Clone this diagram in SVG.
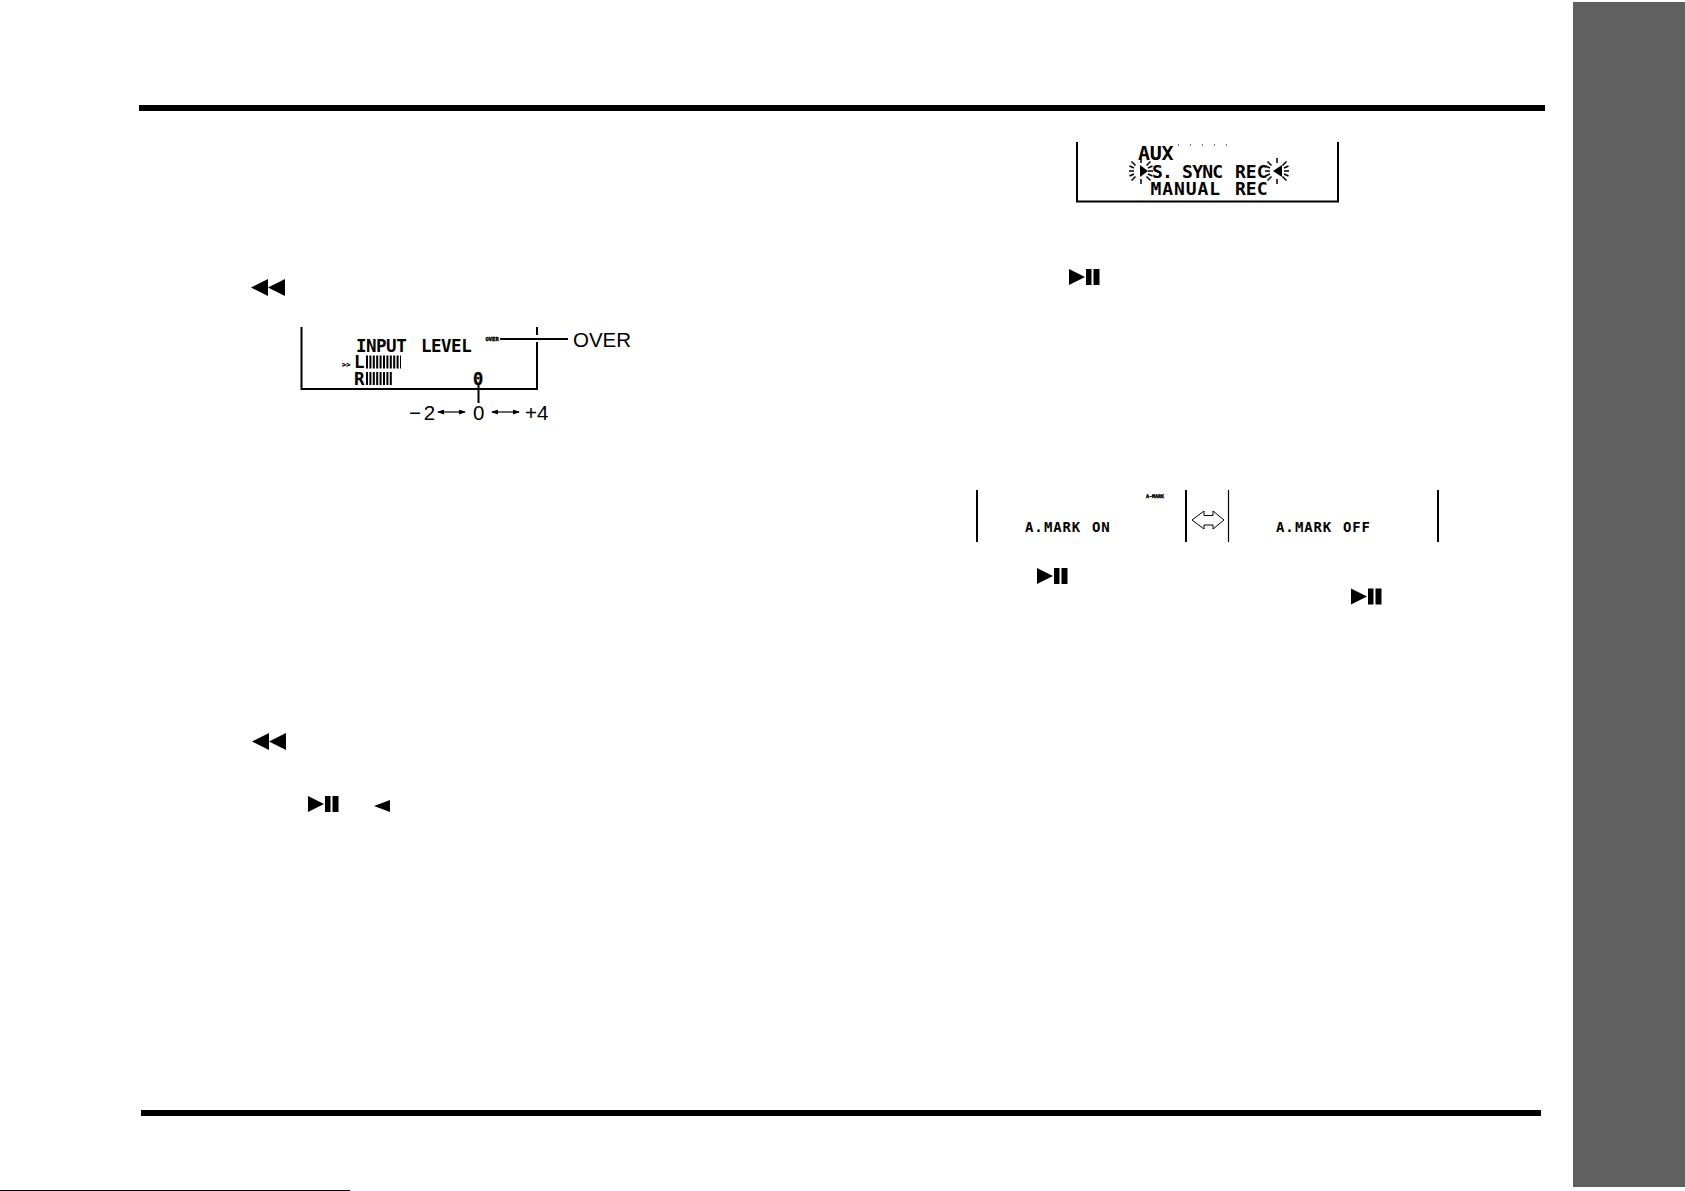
<svg xmlns="http://www.w3.org/2000/svg" width="1685" height="1191" viewBox="0 0 1685 1191">
<style>
.lcd{font-family:"DejaVu Sans Mono","Liberation Mono",monospace;font-weight:700;fill:#000}
.sm{font-size:18px;letter-spacing:-.7px}
.mk{font-size:14px;letter-spacing:.8px}
.lab{font-family:"Liberation Sans",Arial,sans-serif;font-size:20.5px;fill:#000}
.ln{stroke:#000;stroke-width:2;fill:none}
.spark{stroke:#000;stroke-width:1.500;fill:none}
.k{fill:#000}
</style>
<defs>
<marker id="ah" viewBox="0 0 7 5" refX="6" refY="2.500" markerWidth="7" markerHeight="5" markerUnits="userSpaceOnUse" orient="auto-start-reverse"><path d="M0 0L7 2.500L0 5Z" fill="#000"/></marker>
<g id="pp"><path d="M0 0L16 8L0 16Z"/><rect x="17" y="0" width="5.500" height="16"/><rect x="24.500" y="0" width="6" height="16"/></g>
<g id="rw"><path d="M0 8.500L17 0V17Z"/><path d="M17 8.500L34 0V17Z"/></g>
<g id="sp"><path d="M-7 0H-12M7 0H12M0 -8V-13M0 8V13M-5.500 -5.500L-9.500 -9.500M5.500 -5.500L9.500 -9.500M-5.500 5.500L-9.500 9.500M5.500 5.500L9.500 9.500M-7 -3L-11.500 -5M-7 3L-11.500 5M7 -3L11.500 -5M7 3L11.500 5"/></g>
</defs>
<rect width="1685" height="1191" fill="#fff"/>
<g id="sidebar"><rect x="1573" y="2" width="112" height="1185" fill="#606060"/></g>
<g id="rules">
<rect x="139" y="105" width="1406" height="6" class="k"/>
<rect x="141" y="1110" width="1400" height="6" class="k"/>
<rect x="0" y="1190" width="350" height="1" class="k"/>
</g>
<g id="rewind-1" class="k"><use href="#rw" x="251" y="279"/></g>
<g id="display-input-level">
<path class="ln" d="M301.500 327V389H537V342M537 327V335"/>
<text class="lcd" y="352" font-size="17.500" letter-spacing="-.5"><tspan x="356">INPUT</tspan> <tspan x="421">LEVEL</tspan></text>
<text class="lcd" x="485.500" y="341" font-size="5.500" stroke="#000" stroke-width=".4">OVER</text>
<text class="lcd" x="342" y="367" font-size="7" stroke="#000" stroke-width=".3">&gt;&gt;</text>
<text class="lcd" x="354" y="368" font-size="17.500">L</text>
<text class="lcd" x="354" y="385" font-size="17.500">R</text>
<line x1="366" y1="362" x2="401" y2="362" stroke="#000" stroke-width="13" stroke-dasharray="2 1.400"/>
<line x1="366" y1="378.500" x2="393" y2="378.500" stroke="#000" stroke-width="13" stroke-dasharray="2 1.400"/>
<text class="lcd" x="473" y="385" font-size="17" stroke="#000" stroke-width=".4">0</text>
</g>
<g id="label-over"><text class="lab" x="573" y="347" font-size="22.500">OVER</text></g>
<g id="label-scale">
<text class="lab" x="409" y="420" word-spacing="-3">− 2</text>
<text class="lab" x="473" y="420">0</text>
<text class="lab" x="525" y="420">+4</text>
</g>
<g id="connectors">
<line class="ln" x1="500" y1="339" x2="568" y2="339"/>
<line class="ln" x1="478.500" y1="385" x2="478.500" y2="403"/>
<line x1="438" y1="412" x2="465" y2="412" stroke="#000" stroke-width="1.200" marker-start="url(#ah)" marker-end="url(#ah)"/>
<line x1="492" y1="412" x2="519" y2="412" stroke="#000" stroke-width="1.200" marker-start="url(#ah)" marker-end="url(#ah)"/>
</g>
<g id="rewind-2" class="k"><use href="#rw" x="252" y="733"/></g>
<g id="playpause-1" class="k"><use href="#pp" x="308" y="796"/></g>
<g id="back-arrow"><path class="k" d="M374 806L390 800V812Z"/></g>
<g id="display-sync">
<path class="ln" d="M1077 142V201.500H1338V142"/>
<text class="lcd" x="1138" y="160" font-size="20" letter-spacing="-.3">AUX</text>
<path d="M1178 145h1M1190 145h1M1202 145h1M1214 145h1M1226 145h1" stroke="#000" stroke-width="1" fill="none"/>
<text class="lcd sm" y="178"><tspan x="1152" letter-spacing="-.8">S. SYNC</tspan> <tspan x="1235" letter-spacing="0">REC</tspan></text>
<text class="lcd sm" y="195"><tspan x="1150.500" letter-spacing=".9">MANUAL</tspan> <tspan x="1235" letter-spacing="0">REC</tspan></text>
<path class="k" d="M1140 165L1148 171L1140 177Z"/>
<path class="k" d="M1282 165L1273 171L1282 177Z"/>
<use href="#sp" x="1141" y="171" class="spark"/>
<use href="#sp" x="1277" y="171" class="spark"/>
</g>
<g id="playpause-2" class="k"><use href="#pp" x="1069" y="269"/></g>
<g id="display-amark-on">
<path class="ln" d="M977 490V542M1186 490V542"/>
<text class="lcd" x="1146" y="498" font-size="5" stroke="#000" stroke-width=".4">A-MARK</text>
<text class="lcd mk" y="532"><tspan x="1025">A.</tspan> <tspan x="1044">MARK</tspan> <tspan x="1092">ON</tspan></text>
</g>
<g id="double-arrow"><path d="M1192 520L1204 511V515.500H1213V511L1224 520L1213 529V525H1204V529Z" fill="#fff" stroke="#000" stroke-width="1"/></g>
<g id="display-amark-off">
<path class="ln" d="M1438 490V542"/>
<line x1="1228.500" y1="490" x2="1228.500" y2="542" stroke="#000" stroke-width="1.200"/>
<text class="lcd mk" y="532"><tspan x="1276">A.</tspan> <tspan x="1295">MARK</tspan> <tspan x="1343">OFF</tspan></text>
</g>
<g id="playpause-3" class="k"><use href="#pp" x="1037" y="568"/></g>
<g id="playpause-4" class="k"><use href="#pp" x="1351" y="588.500"/></g>
</svg>
